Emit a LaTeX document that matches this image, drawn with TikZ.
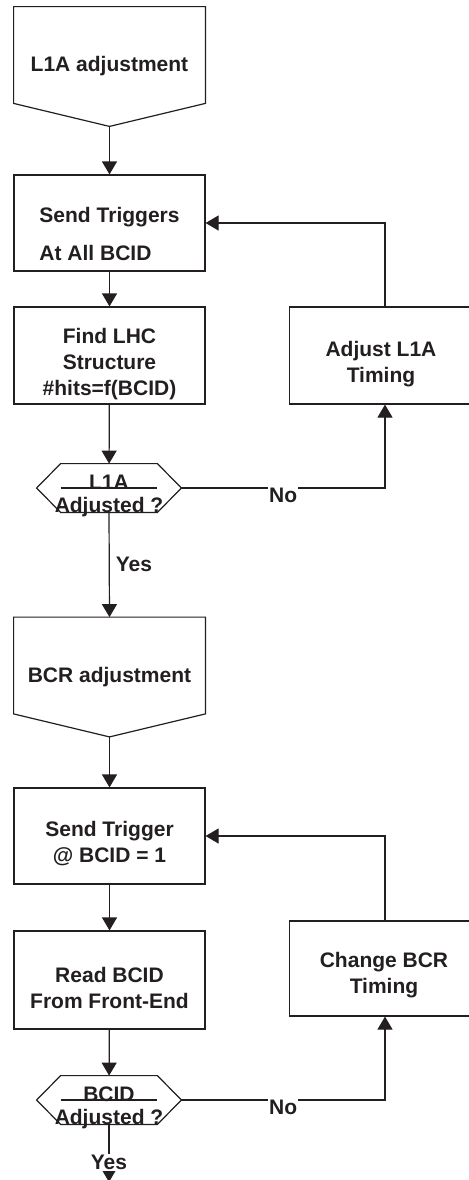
\documentclass[tikz,border=0pt]{standalone}
\usepackage{fontspec}
\setmainfont{Liberation Sans}
\usetikzlibrary{arrows.meta,calc}
\definecolor{ink}{HTML}{231F20}

\begin{document}
\begin{tikzpicture}[x=0.5pt,y=-0.5pt]
    \tikzset{box/.style = {shape=rectangle,draw=ink,line width=0.6pt,minimum width=95.5pt,minimum height=48pt}}
    \tikzset{plain/.style = {shape=rectangle,inner sep=0pt,align=center,text=ink,font=\fontsize{10.5}{13}\selectfont\bfseries}}
    \tikzset{outline/.style = {draw=ink,line width=0.6pt}}
    \tikzset{edge/.style = {-{Triangle[width=7.5pt,length=6.5pt]},draw=ink,line width=0.6pt}}
    \tikzset{tag/.style = {text=ink,font=\fontsize{10.5}{13}\selectfont\bfseries,inner sep=0.5pt}}
    \clip (0,0) rectangle (469,1180);
    \fill[white] (0,0) rectangle (469,1180);
    % L1A part
    \node[plain,minimum width=95.5pt,minimum height=59.5pt] (l1a) at (109.5,66.5) {L1A adjustment};
    \draw[outline] (l1a.north west) -- (l1a.north east) -- ($(l1a.south east)+(0,-23)$) -- (l1a.south) -- ($(l1a.south west)+(0,-23)$) -- cycle;
    \node[box] (send) at (109.5,223) {};
    \node[plain,align=left] (sendtext) at ($(send)+(0,11)$) {Send Triggers\\[6pt]At All BCID};
    \node[box,minimum height=48.5pt] (find) at (109.5,355.5) {};
    \node[plain] (findtext) at ($(find)+(0,8.5)$) {Find LHC\\Structure\\\#hits=f(BCID)};
    \node[box,minimum height=48.5pt] (adjust) at (385,355.5) {};
    \node[plain] (adjusttext) at ($(adjust)+(-4,8.5)$) {Adjust L1A\\Timing};
    \node[minimum width=72pt,minimum height=24pt] (hexa) at (109,488) {};
    \draw[outline] (hexa.west) -- ($(hexa.north west)+(24,0)$) -- ($(hexa.north east)+(-24,0)$) -- (hexa.east) -- ($(hexa.south east)+(-24,0)$) -- ($(hexa.south west)+(24,0)$) -- cycle;
    \draw[outline] ($(hexa.west)+(24,0)$) -- ($(hexa.east)+(-24,0)$);
    \node[plain,font=\fontsize{10.5}{11.5}\selectfont\bfseries] (hexatext) at ($(hexa)+(0,8)$) {L1A\\Adjusted ?};
    % BCR part
    \node[plain,minimum width=95.5pt,minimum height=59.5pt] (bcr) at (109.5,677) {BCR adjustment};
    \draw[outline] (bcr.north west) -- (bcr.north east) -- ($(bcr.south east)+(0,-23)$) -- (bcr.south) -- ($(bcr.south west)+(0,-23)$) -- cycle;
    \node[box] (trig) at (109.5,836) {};
    \node[plain] (trigtext) at ($(trig)+(0,7.5)$) {Send Trigger\\@ BCID = 1};
    \node[box,minimum height=49pt] (read) at (109.5,980) {};
    \node[plain] (readtext) at ($(read)+(0,8)$) {Read BCID\\From Front-End};
    \node[box,minimum height=47.5pt] (change) at (385,968.5) {};
    \node[plain] (changetext) at ($(change)+(-1,6.5)$) {Change BCR\\Timing};
    \node[minimum width=72pt,minimum height=24pt] (hexb) at (109,1100) {};
    \draw[outline] (hexb.west) -- ($(hexb.north west)+(24,0)$) -- ($(hexb.north east)+(-24,0)$) -- (hexb.east) -- ($(hexb.south east)+(-24,0)$) -- ($(hexb.south west)+(24,0)$) -- cycle;
    \draw[outline] ($(hexb.west)+(24,0)$) -- ($(hexb.east)+(-24,0)$);
    \node[plain,font=\fontsize{10.5}{11.5}\selectfont\bfseries] (hexbtext) at ($(hexb)+(0,8)$) {BCID\\Adjusted ?};
    \coordinate (finish) at (109,1182);
    % edges
    \draw[edge] (l1a.south) -- (send.north);
    \draw[edge] (send) -- (find);
    \draw[edge] (find) -- (hexa);
    \draw[edge] (hexa.east) -| node[tag,fill=white,pos=0.25,yshift=-3.5pt] {No} (adjust.south);
    \draw[edge] (adjust.north) |- (send.east);
    \draw[edge] (hexa.south) -- node[tag,pos=0.5,right,inner sep=3pt] {Yes} (bcr.north);
    \draw[edge] (bcr.south) -- (trig.north);
    \draw[edge] (trig) -- (read);
    \draw[edge] (read) -- (hexb);
    \draw[edge] (hexb.east) -| node[tag,fill=white,pos=0.25,yshift=-3.5pt] {No} (change.south);
    \draw[edge] (change.north) |- (trig.east);
    \draw[edge] (hexb.south) -- node[tag,fill=white,pos=0.66] {Yes} (finish);
\end{tikzpicture}
\end{document}
